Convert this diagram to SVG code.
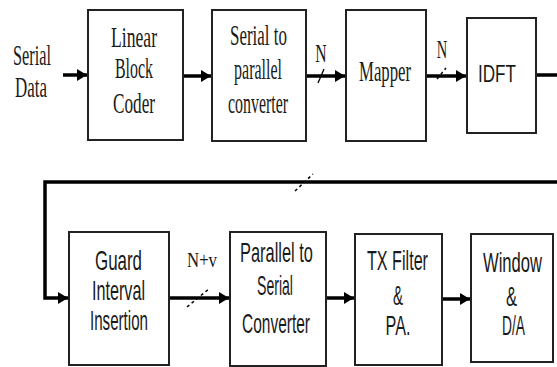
<svg xmlns="http://www.w3.org/2000/svg" width="557" height="367" viewBox="0 0 557 367">
<defs>
<style>
.box{fill:#fff;stroke:#222;stroke-width:2}
.ser{font-family:"Liberation Serif","Times New Roman",serif;font-size:30px;fill:#1a1a1a;text-anchor:middle}
.san{font-family:"Liberation Sans",Arial,sans-serif;font-size:27px;fill:#1a1a1a;text-anchor:middle}
.wire{fill:none;stroke:#000;stroke-width:3.5}
.tick{fill:none;stroke:#000;stroke-width:1.3}
.dtick{fill:none;stroke:#000;stroke-width:1.5;stroke-dasharray:3 3}
</style>
<marker id="ah" markerUnits="userSpaceOnUse" markerWidth="12" markerHeight="14" refX="10" refY="7" orient="auto">
<path d="M0,1 L10,7 L0,13 Z" fill="#000"/>
</marker>
</defs>
<g id="connectors">
<path class="wire" d="M63,75 H87" marker-end="url(#ah)"/>
<path class="wire" d="M183,76 H211" marker-end="url(#ah)"/>
<path class="wire" d="M306,76 H345" marker-end="url(#ah)"/>
<path class="tick" d="M318,83 L324,69"/>
<path class="wire" d="M426,76 H466" marker-end="url(#ah)"/>
<path class="dtick" d="M437,79 L446,68"/>
<path class="wire" d="M536,75 H557"/>
<path class="wire" d="M557,182 H45 V298 H68" marker-end="url(#ah)"/>
<path class="dtick" d="M295,191 L313,174"/>
<path class="wire" d="M169,298 H229" marker-end="url(#ah)"/>
<path class="dtick" d="M187,307 L210,288"/>
<path class="wire" d="M326,298 H354" marker-end="url(#ah)"/>
<path class="wire" d="M442,299 H470" marker-end="url(#ah)"/>
</g>
<g id="input">
<text class="ser" transform="translate(32,65) scale(0.543,1)">Serial</text>
<text class="ser" transform="translate(31,97) scale(0.565,1)">Data</text>
</g>
<g id="coder">
<rect class="box" x="88" y="10" width="95" height="130"/>
<text class="ser" transform="translate(134,47) scale(0.588,1)">Linear</text>
<text class="ser" transform="translate(134,78) scale(0.53,1)">Block</text>
<text class="ser" transform="translate(134,113) scale(0.573,1)">Coder</text>
</g>
<g id="s2p">
<rect class="box" x="212" y="10" width="94" height="131"/>
<text class="ser" transform="translate(258.5,45) scale(0.565,1)">Serial to</text>
<text class="ser" transform="translate(258,79) scale(0.533,1)">parallel</text>
<text class="ser" transform="translate(258,113) scale(0.53,1)">converter</text>
</g>
<g id="label-n1">
<text class="ser" style="font-size:25px" transform="translate(321,62) scale(0.63,1)">N</text>
</g>
<g id="mapper">
<rect class="box" x="346" y="10" width="80" height="131"/>
<text class="ser" transform="translate(385,81) scale(0.557,1)">Mapper</text>
</g>
<g id="label-n2">
<text class="ser" style="font-size:25px" transform="translate(442,58) scale(0.58,1)">N</text>
</g>
<g id="idft">
<rect class="box" x="467" y="18" width="69" height="115"/>
<text class="san" style="font-size:24px" transform="translate(497,82) scale(0.713,1)">IDFT</text>
</g>
<g id="guard">
<rect class="box" x="69" y="232" width="100" height="133"/>
<text class="san" transform="translate(118.5,270) scale(0.627,1)">Guard</text>
<text class="san" transform="translate(118.5,300) scale(0.599,1)">Interval</text>
<text class="san" transform="translate(119,330) scale(0.56,1)">Insertion</text>
</g>
<g id="label-nv">
<text class="ser" style="font-size:22px" transform="translate(202,267) scale(0.763,1)">N+v</text>
</g>
<g id="p2s">
<rect class="box" x="230" y="232" width="96" height="134"/>
<text class="san" transform="translate(276.5,262) scale(0.608,1)">Parallel to</text>
<text class="san" transform="translate(275,295) scale(0.522,1)">Serial</text>
<text class="san" transform="translate(276,333) scale(0.574,1)">Converter</text>
</g>
<g id="txfilter">
<rect class="box" x="355" y="234" width="87" height="131"/>
<text class="san" transform="translate(397.5,270) scale(0.598,1)">TX Filter</text>
<text class="san" transform="translate(398,305) scale(0.556,1)">&amp;</text>
<text class="san" transform="translate(398,335) scale(0.598,1)">PA.</text>
</g>
<g id="window">
<rect class="box" x="471" y="234" width="82" height="128"/>
<text class="san" transform="translate(512.5,272) scale(0.615,1)">Window</text>
<text class="san" transform="translate(511.5,306) scale(0.611,1)">&amp;</text>
<text class="san" transform="translate(513.5,335) scale(0.511,1)">D/A</text>
</g>
</svg>
